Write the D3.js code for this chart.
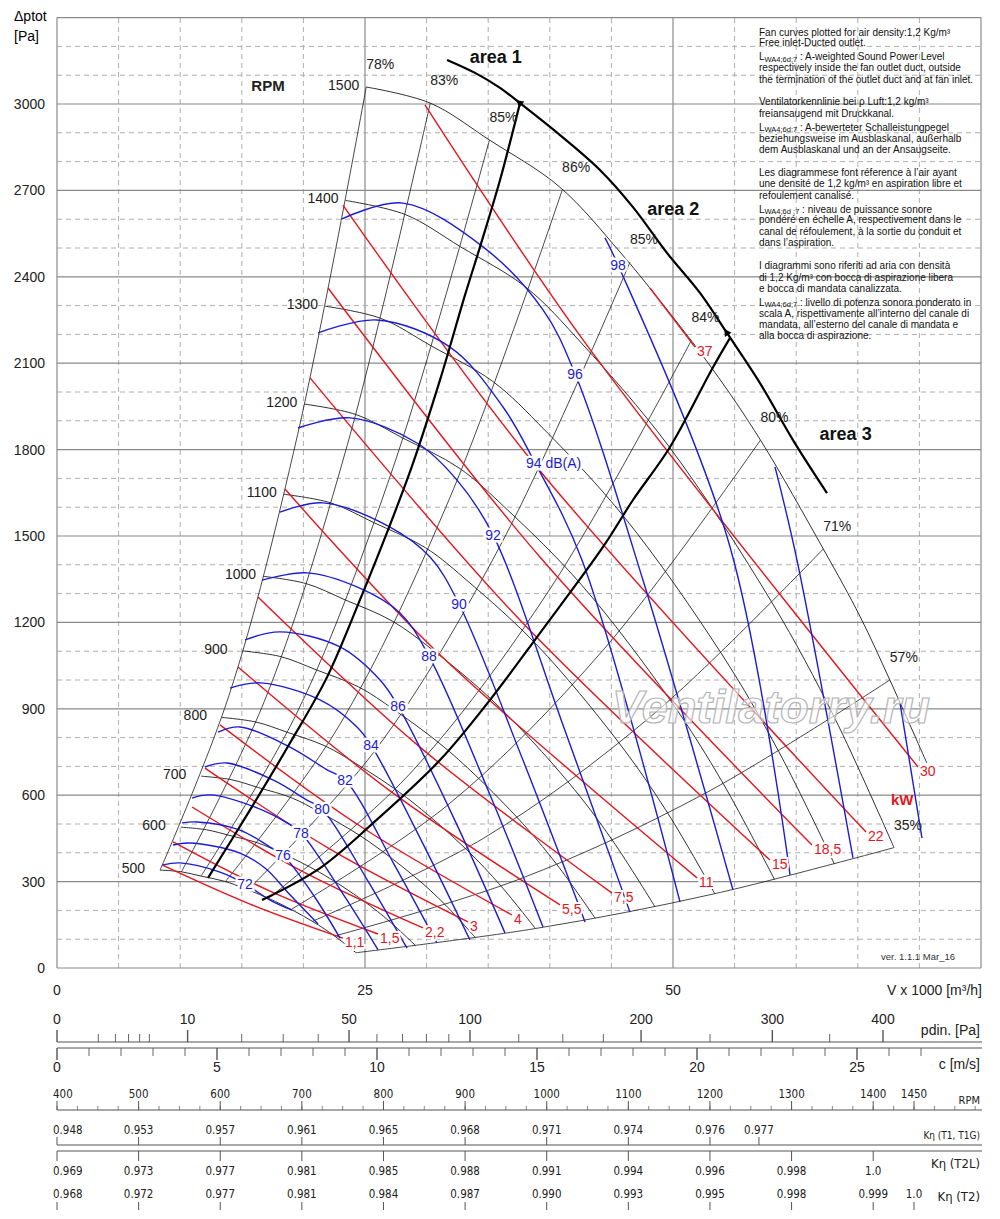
<!DOCTYPE html>
<html>
<head>
<meta charset="utf-8">
<script src="https://cdn.jsdelivr.net/npm/d3@7"></script>
<style>
  body { margin: 0; background: #fff; }
  svg { display: block; font-family: "Liberation Sans", Arial, Helvetica, sans-serif; }
  .narrow { font-family: "Liberation Sans Narrow", "Arial Narrow", "DejaVu Sans Condensed", sans-serif; }
</style>
</head>
<body>
<svg id="chart" width="1000" height="1219"></svg>
<script>
// ---- data (V x1000 m3/h, ptot Pa) ----
var rpmLevels = [500, 600, 700, 800, 900, 1000, 1100, 1200, 1300, 1400, 1500];
var rpmCurves = [
  [[8.37,340],[10.1,334],[11.7,319],[13.6,301],[15.23,276],[17.73,231],[20.73,162],[22.53,111],[24.27,53]],
  [[10.04,489],[12.12,480],[14.04,460],[16.32,434],[18.28,398],[21.28,333],[24.88,233],[27.04,160],[29.12,77]],
  [[11.71,666],[14.14,654],[16.38,626],[19.04,591],[21.33,541],[24.83,453],[29.03,317],[31.55,218],[33.97,105]],
  [[13.39,870],[16.16,854],[18.72,818],[21.76,771],[24.37,707],[28.37,592],[33.17,414],[36.05,284],[38.83,137]],
  [[15.06,1101],[18.18,1081],[21.06,1035],[24.48,976],[27.42,895],[31.92,749],[37.32,524],[40.56,360],[43.68,173]],
  [[16.73,1360],[20.2,1335],[23.4,1278],[27.2,1205],[30.47,1105],[35.47,924],[41.47,647],[45.07,444],[48.53,213]],
  [[18.41,1645],[22.22,1615],[25.74,1546],[29.92,1459],[33.51,1337],[39.01,1119],[45.61,782],[49.57,538],[53.39,258]],
  [[20.08,1958],[24.24,1922],[28.08,1840],[32.64,1736],[36.56,1591],[42.56,1331],[49.76,931],[54.08,640],[58.24,307]],
  [[21.75,2298],[26.26,2256],[30.42,2159],[35.36,2037],[39.61,1867],[46.11,1562],[53.91,1093],[58.59,751],[63.1,361]],
  [[23.43,2665],[28.28,2616],[32.76,2504],[38.08,2363],[42.65,2166],[49.65,1812],[58.06,1267],[63.09,871],[67.94,418]],
  [[25.1,3059],[30.3,3003],[35.1,2875],[40.8,2712],[45.7,2486],[48.9,2319],[53.2,2080],[57.1,1833],[62.2,1455],[65.2,1219],[67.6,1000],[70.6,712]]
];

var effLabels = ["78%", "83%", "85%", "86%", "85%", "84%", "80%", "71%", "57%", "35%"];
var effCurves = [
  [[8.37,340],[13.95,945],[19.53,1852],[25.1,3059]],
  [[10.1,334],[16.83,926],[23.57,1817],[30.3,3003]],
  [[11.7,320],[19.5,888],[27.3,1740],[35.1,2875]],
  [[13.67,300],[22.78,833],[31.89,1633],[41.0,2700]],
  [[15.5,272],[25.83,756],[36.17,1482],[46.5,2450]],
  [[17.17,242],[28.61,673],[40.06,1319],[51.5,2180]],
  [[19.03,204],[31.72,566],[44.41,1108],[57.1,1833]],
  [[20.73,162],[34.56,449],[48.38,880],[62.2,1455]],
  [[22.53,111],[37.56,309],[52.58,606],[67.6,1000]],
  [[24.27,53],[38.83,137],[53.39,258],[67.94,418]]
];

var kwLabels = ["1,1", "1,5", "2,2", "3", "4", "5,5", "7,5", "11", "15", "18,5", "22", "30", "37"];
var kwCurves = [
  [[8.52,358],[15.67,222],[23.21,104]],
  [[9.42,438],[17.29,267],[26.06,118]],
  [[10.96,559],[19.72,340],[29.71,139]],
  [[12.01,694],[22.16,413],[33.36,160]],
  [[13.23,844],[24.59,493],[36.93,184]],
  [[14.69,1045],[27.03,615],[40.83,219]],
  [[16.31,1288],[29.46,767],[45.05,260]],
  [[18.51,1663],[30.68,1104],[51.95,313]],
  [[20.54,2049],[37.58,1208],[57.87,375]],
  [[22.0,2361],[39.2,1427],[61.28,427]],
  [[23.21,2649],[38.88,1743],[65.67,472]],
  [[29.87,2997],[42.7,2181],[69.89,698]],
  [[48.13,2361],[51.79,2156]]
];

var dbLabels = ["72", "", "76", "78", "80", "82", "84", "86", "88", "90", "92", "94 dB(A)", "96", "98", "", ""];
var dbLabelAt = [3, -1, 4, 4, 4, 4, 4, 4, 4, 4, 4, 4, 4, 1, -1, -1];
var dbCurves = [
  [[8.6,358],[9.98,365],[13.23,333],[15.26,292],[17.29,236],[19.07,201]],
  [[9.42,427],[10.8,434],[14.85,399],[16.88,347],[18.91,254],[21.19,153]],
  [[10.15,504],[11.36,507],[14.85,479],[17.29,420],[18.34,392],[20.86,250],[22.97,104]],
  [[10.96,590],[12.42,601],[16.23,556],[18.67,504],[19.81,469],[23.21,257],[26.06,63]],
  [[12.01,698],[13.8,712],[17.53,653],[20.29,583],[21.51,552],[25.24,302],[28.41,69]],
  [[13.07,819],[14.85,837],[18.91,767],[21.92,688],[23.38,653],[27.35,361],[30.84,87]],
  [[14.04,972],[16.48,990],[21.35,931],[24.35,837],[25.49,774],[29.79,424],[33.52,97]],
  [[15.26,1139],[18.1,1167],[22.97,1115],[26.22,1000],[27.68,910],[32.39,504],[36.36,122]],
  [[16.64,1347],[20.29,1372],[24.35,1323],[27.84,1233],[30.19,1083],[35.15,601],[39.45,142]],
  [[18.1,1583],[21.59,1615],[27.03,1531],[30.28,1427],[32.63,1264],[37.82,722],[42.86,160]],
  [[19.56,1875],[23.78,1910],[29.22,1823],[32.47,1694],[35.39,1504],[41.07,844],[46.51,194]],
  [[21.19,2205],[25.97,2250],[31.9,2156],[36.2,1948],[38.8,1754],[42.61,1417],[50.57,229]],
  [[23.13,2601],[28.08,2656],[34.58,2504],[39.45,2285],[42.05,2063],[47.56,1347],[54.87,271]],
  [[44.48,2535],[45.54,2441],[54.63,1462],[59.5,323]],
  [[58.28,1740],[60.06,1417],[64.61,382]],
  [[68.43,920],[70.21,451]]
];

// thick limits between working areas
var areaLine1 = [[12.26,313],[15.67,549],[18.91,781],[21.92,1010],[24.59,1278],[26.87,1521],[28.9,1753],[31.09,2042],[33.12,2337],[34.33,2503],[35.96,2736],[37.58,3003]];
var areaLine2 = [[16.64,236],[21.35,347],[25.65,503],[31.09,722],[35.15,931],[39.2,1163],[44.32,1462],[46.75,1625],[49.76,1809],[53.17,2080],[54.63,2188]];
var areaArc = [[31.66,3153],[33.93,3108],[35.96,3056],[37.58,3003],[40.83,2892],[44.07,2771],[46.75,2642],[49.51,2483],[52.19,2344],[54.38,2205],[57.06,2031],[59.74,1833],[62.5,1649]];
var areaLabels = ["area 1", "area 2", "area 3"];
var areaLabelPos = [[33.5,3142],[47.9,2615],[61.9,1833]];

var yTicks = d3.range(0, 3001, 300);
var xTicks = [0, 25, 50];

// bottom scales
var pdinMajor = [0, 10, 50, 100, 200, 300, 400];
var pdinMinor = [1, 2, 3, 4, 5, 20, 30, 40, 60, 70, 80, 90, 125, 150, 175, 250, 350];
var cTicks = d3.range(0, 28);
var cLabels = [0, 5, 10, 15, 20, 25];
var rpmScaleLabels = [400, 500, 600, 700, 800, 900, 1000, 1100, 1200, 1300, 1400, 1450];
var kT1Rpm = [400, 500, 600, 700, 800, 900, 1000, 1100, 1200, 1260];
var kT1 = ["0.948", "0.953", "0.957", "0.961", "0.965", "0.968", "0.971", "0.974", "0.976", "0.977"];
var kT2LRpm = [400, 500, 600, 700, 800, 900, 1000, 1100, 1200, 1300, 1400];
var kT2L = ["0.969", "0.973", "0.977", "0.981", "0.985", "0.988", "0.991", "0.994", "0.996", "0.998", "1.0"];
var kT2Rpm = [400, 500, 600, 700, 800, 900, 1000, 1100, 1200, 1300, 1400, 1450];
var kT2 = ["0.968", "0.972", "0.977", "0.981", "0.984", "0.987", "0.990", "0.993", "0.995", "0.998", "0.999", "1.0"];

var noteLines = [
  "Fan curves plotted for air density:1,2 Kg/m³",
  "Free inlet-Ducted outlet.",
  "L|WA4;6d;7| : A-weighted Sound Power Level",
  "respectively inside the fan outlet duct, outside",
  "the termination of the outlet duct and at fan inlet.",
  "Ventilatorkennlinie bei ρ Luft:1,2 kg/m³",
  "freiansaugend mit Druckkanal.",
  "L|WA4;6d;7| : A-bewerteter Schalleistungpegel",
  "beziehungsweise im Ausblaskanal, außerhalb",
  "dem Ausblaskanal und an der Ansaugseite.",
  "Les diagrammese font réference à l’air ayant",
  "une densité de 1,2 kg/m³ en aspiration libre et",
  "refoulement canalisé.",
  "L|WA4;6d ;7| : niveau de puissance sonore",
  "pondéré en échelle A, respectivement dans le",
  "canal de réfoulement, à la sortie du conduit et",
  "dans l’aspiration.",
  "I diagrammi sono riferiti ad aria con densità",
  "di 1,2 Kg/m³ con bocca di aspirazione libera",
  "e bocca di mandata canalizzata.",
  "L|WA4;6d;7| : livello di potenza sonora ponderato in",
  "scala A, rispettivamente all’interno del canale di",
  "mandata, all’esterno del canale di mandata e",
  "alla bocca di aspirazione."
];
var noteY = [35.5, 46, 60, 71, 82.5, 105, 116.5, 130.5, 142, 153, 176, 187, 198.5, 212.5, 223, 235, 246, 269, 280.5, 291.5, 305.5, 317, 328, 339];

// ---- drawing ----
var svg = d3.select("#chart");
var x = d3.scaleLinear().domain([0, 75]).range([57, 981]);
var y = d3.scaleLinear().domain([0, 3300]).range([968, 17.6]);
var line = d3.line().x(function(d) { return x(d[0]); }).y(function(d) { return y(d[1]); })
  .curve(d3.curveCatmullRom.alpha(0.5));

var RED = "#e3161e", BLUE = "#1c1cd6";

// grid
var grid = svg.append("g");
d3.range(0, 76, 5).forEach(function(v) {
  var solid = v % 25 === 0;
  grid.append("line").attr("x1", x(v)).attr("x2", x(v)).attr("y1", y(0)).attr("y2", y(3300))
    .attr("stroke", solid ? "#8a8a8a" : "#a5a5a5").attr("stroke-width", solid ? 1.2 : 0.9)
    .attr("stroke-dasharray", solid ? null : "5,4");
});
d3.range(0, 3301, 100).forEach(function(v) {
  var solid = v % 300 === 0;
  grid.append("line").attr("x1", x(0)).attr("x2", x(75)).attr("y1", y(v)).attr("y2", y(v))
    .attr("stroke", solid ? "#8a8a8a" : "#a5a5a5").attr("stroke-width", solid ? 1.2 : 0.9)
    .attr("stroke-dasharray", solid ? null : "5,4");
});

// axis labels
svg.append("text").attr("x", 14).attr("y", 21).attr("font-size", 14).text("Δptot");
svg.append("text").attr("x", 14).attr("y", 41).attr("font-size", 14).text("[Pa]");
yTicks.forEach(function(v) {
  svg.append("text").attr("x", 45).attr("y", y(v) + 5).attr("text-anchor", "end")
    .attr("font-size", 14).attr("fill", "#222").text(v);
});
xTicks.forEach(function(v) {
  svg.append("text").attr("x", x(v)).attr("y", 995).attr("text-anchor", "middle")
    .attr("font-size", 14).attr("fill", "#222").text(v);
});
svg.append("text").attr("x", 982).attr("y", 995).attr("text-anchor", "end")
  .attr("font-size", 14).attr("fill", "#222").text("V x 1000 [m³/h]");

// curves
var curves = svg.append("g").attr("fill", "none");
effCurves.forEach(function(c) {
  curves.append("path").attr("d", line(c)).attr("stroke", "#1a1a1a").attr("stroke-width", 0.8);
});
rpmCurves.forEach(function(c) {
  curves.append("path").attr("d", line(c)).attr("stroke", "#1a1a1a").attr("stroke-width", 0.9);
});
kwCurves.forEach(function(c) {
  curves.append("path").attr("d", line(c)).attr("stroke", RED).attr("stroke-width", 1.4);
});
dbCurves.forEach(function(c) {
  curves.append("path").attr("d", line(c)).attr("stroke", BLUE).attr("stroke-width", 1.4);
});
[areaLine1, areaLine2, areaArc].forEach(function(c) {
  curves.append("path").attr("d", line(c)).attr("stroke", "#000").attr("stroke-width", 2.2);
});

// little arrow heads where the limits meet the arc
[3, 9].forEach(function(i) {
  var a = areaArc[i - 1], b = areaArc[i + 1];
  var ang = Math.atan2(y(b[1]) - y(a[1]), x(b[0]) - x(a[0])) * 180 / Math.PI;
  svg.append("path").attr("d", d3.symbol().type(d3.symbolTriangle).size(28)())
    .attr("transform", "translate(" + x(areaArc[i][0]) + "," + y(areaArc[i][1]) + ") rotate(" + (ang - 90) + ")")
    .attr("fill", "#000");
});

// watermark
svg.append("text").attr("x", 771).attr("y", 723).attr("text-anchor", "middle")
  .attr("font-size", 47).attr("font-weight", "bold").attr("font-style", "italic")
  .attr("fill", "#fff").attr("fill-opacity", 0.6).attr("stroke", "#b4b4b4").attr("stroke-width", 1.2)
  .text("Ventilatorry.ru");

// RPM labels
rpmCurves.forEach(function(c, i) {
  var s = String(rpmLevels[i]);
  svg.append("text").attr("x", x(c[0][0]) - (s.length === 3 ? 15 : 7)).attr("y", y(c[0][1]) + 3)
    .attr("text-anchor", "end").attr("font-size", 14).attr("fill", "#222").text(s);
});
svg.append("text").attr("x", x(17.13)).attr("y", y(3045)).attr("text-anchor", "middle")
  .attr("font-size", 15).attr("font-weight", "bold").attr("fill", "#222").text("RPM");

// efficiency labels
effCurves.forEach(function(c, i) {
  var e = c[c.length - 1];
  svg.append("text").attr("x", x(e[0])).attr("y", y(e[1]) - 18)
    .attr("font-size", 14).attr("fill", "#222").text(effLabels[i]);
});

// kW labels
kwCurves.forEach(function(c, i) {
  var e = c[c.length - 1];
  svg.append("text").attr("x", x(e[0]) + 2).attr("y", y(e[1]) + 9)
    .attr("font-size", 14).attr("fill", RED)
    .attr("stroke", "#fff").attr("stroke-width", 4).attr("paint-order", "stroke")
    .text(kwLabels[i]);
});
svg.append("text").attr("x", x(68.6)).attr("y", y(566)).attr("text-anchor", "middle")
  .attr("font-size", 15).attr("font-weight", "bold").attr("fill", RED).text("kW");

// dB labels
dbCurves.forEach(function(c, i) {
  if (dbLabelAt[i] < 0) return;
  var p = c[dbLabelAt[i]];
  var long = dbLabels[i].length > 3;
  svg.append("text").attr("x", x(p[0]) + (long ? -9 : 0)).attr("y", y(p[1]) + 5)
    .attr("text-anchor", long ? "start" : "middle")
    .attr("font-size", 14).attr("fill", BLUE)
    .attr("stroke", "#fff").attr("stroke-width", 5).attr("paint-order", "stroke")
    .text(dbLabels[i]);
});

// area labels
areaLabels.forEach(function(t, i) {
  svg.append("text").attr("x", x(areaLabelPos[i][0])).attr("y", y(areaLabelPos[i][1]))
    .attr("font-size", 18).attr("font-weight", "bold").attr("fill", "#111").text(t);
});

svg.append("text").attr("x", 955).attr("y", 960).attr("text-anchor", "end")
  .attr("font-size", 9.5).attr("fill", "#333").text("ver. 1.1.1 Mar_16");

// notes block
var notes = svg.append("g").attr("font-size", 10).attr("fill", "#111");
noteLines.forEach(function(t, i) {
  var tx = notes.append("text").attr("x", 759).attr("y", noteY[i]);
  if (t.indexOf("|") >= 0) {
    var parts = t.split("|");
    tx.append("tspan").text(parts[0]);
    tx.append("tspan").attr("font-size", 7.5).attr("dy", 1.5).text(parts[1]);
    tx.append("tspan").attr("dy", -1.5).text(parts[2]);
  } else {
    tx.text(t);
  }
});

// ---- lower scales ----
var pdinX = d3.scaleSqrt().domain([0, 400]).range([57, 883]);
var cX = d3.scaleLinear().domain([0, 25]).range([57, 857]);
var rpmX = d3.scaleLinear().domain([400, 1450]).range([57, 914]);
var low = svg.append("g").attr("stroke", "#555");

function hline(yy) {
  low.append("line").attr("x1", 57).attr("x2", 982).attr("y1", yy).attr("y2", yy).attr("stroke-width", 1.2);
}
function tick(xx, y1, y2, w) {
  low.append("line").attr("x1", xx).attr("x2", xx).attr("y1", y1).attr("y2", y2).attr("stroke-width", w || 1);
}
function label(xx, yy, t, size, cls, anchor) {
  svg.append("text").attr("x", xx).attr("y", yy).attr("text-anchor", anchor || "middle")
    .attr("font-size", size).attr("fill", "#222").attr("class", cls || null).text(t);
}

hline(1042);
pdinMajor.forEach(function(v) { tick(pdinX(v), 1030, 1042, 1.4); label(pdinX(v), 1024, v, 14); });
pdinMinor.forEach(function(v) { tick(pdinX(v), 1034, 1042, 0.9); });
label(980, 1035, "pdin. [Pa]", 14, null, "end");

hline(1048);
cTicks.forEach(function(v) {
  var major = v % 5 === 0;
  tick(cX(v), 1048, major ? 1060 : 1056, major ? 1.4 : 0.9);
});
cLabels.forEach(function(v) { label(cX(v), 1072, v, 14); });
label(980, 1069, "c [m/s]", 14, null, "end");

hline(1110);
d3.range(400, 1526, 25).forEach(function(v) { tick(rpmX(v), 1106, 1110, 0.7); });
rpmScaleLabels.forEach(function(v, i) {
  tick(rpmX(v), 1101, 1110, 1);
  label(i === 0 ? rpmX(v) - 4 : rpmX(v), 1098, v, 11.5, "narrow", i === 0 ? "start" : "middle");
});
label(980, 1104, "RPM", 11, "narrow", "end");

hline(1145);
kT1Rpm.forEach(function(v, i) {
  tick(rpmX(v), 1137, 1145, 1);
  label(i === 0 ? rpmX(v) - 4 : rpmX(v), 1134, kT1[i], 11.5, "narrow", i === 0 ? "start" : "middle");
});
label(980, 1139, "Kη (T1, T1G)", 10, "narrow", "end");

hline(1151);
kT2LRpm.forEach(function(v, i) {
  tick(rpmX(v), 1151, 1161, 1);
  label(i === 0 ? rpmX(v) - 4 : rpmX(v), 1175, kT2L[i], 11.5, "narrow", i === 0 ? "start" : "middle");
});
label(980, 1168, "Kη (T2L)", 13, "narrow", "end");

kT2Rpm.forEach(function(v, i) {
  tick(rpmX(v), 1202, 1210, 1);
  label(i === 0 ? rpmX(v) - 4 : rpmX(v), 1198, kT2[i], 11.5, "narrow", i === 0 ? "start" : "middle");
});
label(980, 1201, "Kη (T2)", 13, "narrow", "end");
</script>
</body>
</html>
